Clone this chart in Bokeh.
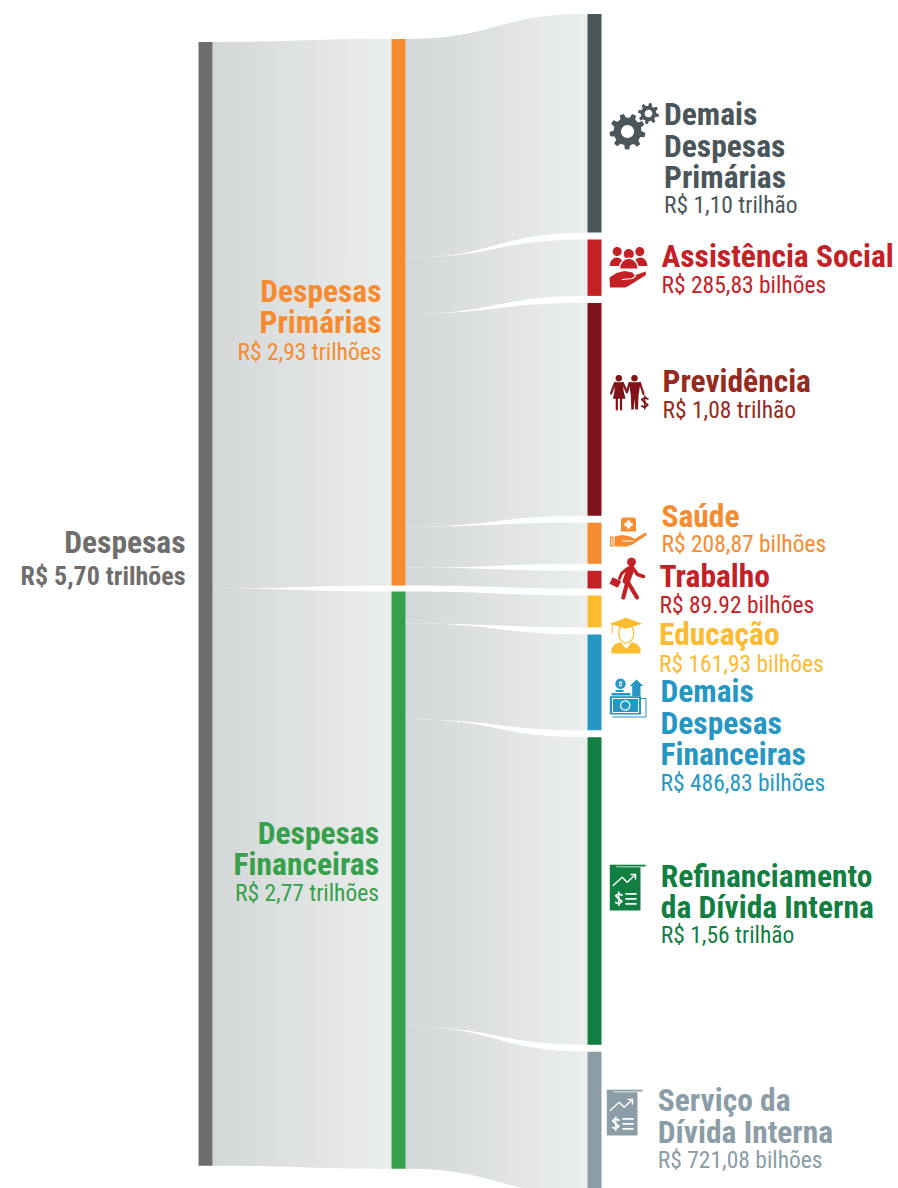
import numpy as np
from bokeh.plotting import figure
from bokeh.models import Range1d
from bokeh.core.properties import value
from bokeh.embed import file_html
from bokeh.resources import INLINE

# ---- data (R$ trillions as drawn, labels as printed) ----
right_names = ["Demais Despesas Primárias", "Assistência Social", "Previdência", "Saúde", "Trabalho",
               "Educação", "Demais Despesas Financeiras", "Refinanciamento da Dívida Interna", "Serviço da Dívida Interna"]
right_values = [1.11, 0.28583, 1.08, 0.20887, 0.08992, 0.16193, 0.48683, 1.56, 0.72108]
right_group = [0, 0, 0, 0, 0, 1, 1, 1, 1]
right_colors = ["#4b565b", "#c42127", "#7f1319", "#f68b2f", "#c42127", "#fdbb30", "#2697c4", "#107f41", "#8b9da6"]
mid_colors = ["#f68b2f", "#36a04a"]
root_color = "#6f6e6c"

FONT = "Roboto Condensed, Roboto"
PX = 197.0
W, H = 898, 1188
ORIG_Y = 41.4

p = figure(width=W, height=H, output_backend="svg", toolbar_location=None,
           x_range=Range1d(0, W),
           y_range=Range1d((H - ORIG_Y) / PX, (0 - ORIG_Y) / PX),
           x_axis_location=None, y_axis_location=None, min_border=0)
p.extra_y_ranges = {"px": Range1d(H, 0)}
p.outline_line_color = None
p.grid.visible = False
p.background_fill_color = "white"
p.border_fill_color = "white"

# ---- layout, in trillions ----
vals = np.array(right_values)
grp = np.array(right_group)
mid_values = np.array([vals[grp == 0].sum(), vals[grp == 1].sum()])
total = vals.sum()
center = total / 2
gap_mid, gap_right = 6 / PX, 7 / PX

mid_top = center - (total + gap_mid) / 2
mid_y0 = np.array([mid_top, mid_top + mid_values[0] + gap_mid])
right_top = center - (total + 8 * gap_right) / 2
right_y0 = right_top + np.concatenate([[0], np.cumsum(vals + gap_right)[:-1]])

X_L, X_M, X_R, NW = 198, 391, 587, 14
GL, GR = np.array([0xd4, 0xd7, 0xd8]), np.array([0xea, 0xee, 0xec])


def link(x0, x1, s0, s1, t0, t1, n=36):
    tt = np.linspace(0, 1, 400)
    fx = 1.5 * tt - 1.5 * tt ** 2 + tt ** 3
    fy = tt ** 2 * (3 - 2 * tt)
    edges = np.linspace(x0, x1, n + 1)
    xs, ys, cs = [], [], []
    for i in range(n):
        a = edges[i]
        b = min(edges[i + 1] + 1.0, x1)
        xx = np.linspace(a, b, 4)
        f = np.interp((xx - x0) / (x1 - x0), fx, fy)
        top = s0 + (t0 - s0) * f
        bot = s1 + (t1 - s1) * f
        xs.append(list(xx) + list(xx[::-1]))
        ys.append(list(top) + list(bot[::-1]))
        c = GL + (GR - GL) * (i + 0.5) / n
        cs.append("#%02x%02x%02x" % tuple(int(round(v)) for v in c))
    p.patches(xs, ys, fill_color=cs, line_color=None)


# left links
acc = 0.0
for i in range(2):
    link(X_L + NW, X_M, acc, acc + mid_values[i], mid_y0[i], mid_y0[i] + mid_values[i])
    acc += mid_values[i]
# right links
pos = mid_y0.copy()
for i, v in enumerate(vals):
    g = grp[i]
    link(X_M + NW, X_R, pos[g], pos[g] + v, right_y0[i], right_y0[i] + v)
    pos[g] += v

# nodes
p.quad(left=[X_L], right=[X_L + NW], top=[0], bottom=[total], fill_color=root_color, line_color=None)
p.quad(left=[X_M] * 2, right=[X_M + NW] * 2, top=mid_y0, bottom=mid_y0 + mid_values, fill_color=mid_colors, line_color=None)
p.quad(left=[X_R] * 9, right=[X_R + NW] * 9, top=right_y0, bottom=right_y0 + vals, fill_color=right_colors, line_color=None)

# ---- text ----
BIG, SMALL = 31.5, 23.5
BASE_SHIFT = 0.33


def tx(x, y, s, color, big=True, align="left", size=None, style=None):
    fs = size or (BIG if big else SMALL)
    p.text([x - 1 if align == "left" else x], [y - BASE_SHIFT * fs], text=[s], y_range_name="px", text_color=color,
           text_align=align, text_baseline="alphabetic", text_font=value(FONT),
           text_font_size=f"{fs}px", text_font_style=style or ("bold" if big else "normal"))


tx(185, 552.5, "Despesas", root_color, align="right")
tx(185, 584, "R$ 5,70 trilhões", root_color, align="right", size=26, style="bold")
tx(381, 301, "Despesas", mid_colors[0], align="right")
tx(381, 332, "Primárias", mid_colors[0], align="right")
tx(381, 359, "R$ 2,93 trilhões", mid_colors[0], big=False, align="right")
tx(378.5, 843.3, "Despesas", mid_colors[1], align="right")
tx(378.5, 874.3, "Financeiras", mid_colors[1], align="right")
tx(378.5, 900.7, "R$ 2,77 trilhões", mid_colors[1], big=False, align="right")

BROWN = "#952a20"
labels = [
    (664.5, [(124.2, "Demais"), (156.2, "Despesas"), (187.2, "Primárias")], 212.2, "R$ 1,10 trilhão", right_colors[0]),
    (662, [(266.2, "Assistência Social")], 292.2, "R$ 285,83 bilhões", right_colors[1]),
    (663, [(391.2, "Previdência")], 417.2, "R$ 1,08 trilhão", BROWN),
    (662, [(526.2, "Saúde")], 551.2, "R$ 208,87 bilhões", right_colors[3]),
    (660, [(586.2, "Trabalho")], 612.2, "R$ 89.92 bilhões", right_colors[4]),
    (659.5, [(644.2, "Educação")], 671.2, "R$ 161,93 bilhões", right_colors[5]),
    (661, [(701.2, "Demais"), (733.2, "Despesas"), (764.2, "Financeiras")], 790.2, "R$ 486,83 bilhões", right_colors[6]),
    (661.3, [(886.2, "Refinanciamento"), (917.2, "da Dívida Interna")], 942.2, "R$ 1,56 trilhão", right_colors[7]),
    (658.3, [(1110, "Serviço da"), (1142, "Dívida Interna")], 1167.2, "R$ 721,08 bilhões", right_colors[8]),
]
for x, lines, ys, sub, col in labels:
    for y, s in lines:
        tx(x, y, s, col)
    tx(x, ys, sub, col, big=False)


# ---- icons, in page pixels ----
def P(pts, color):
    a = np.array(pts, dtype=float)
    p.patch(a[:, 0], a[:, 1], fill_color=color, line_color=None, y_range_name="px")


def L(pts, color, w=1.0):
    a = np.array(pts, dtype=float)
    p.line(a[:, 0], a[:, 1], line_color=color, line_width=w, line_cap="round", line_join="round", y_range_name="px")


def E(cx, cy, rx, ry=None, color="#000", a0=0.0, a1=2 * np.pi):
    ry = rx if ry is None else ry
    t = np.linspace(a0, a1, 40)
    P(np.c_[cx + rx * np.cos(t), cy + ry * np.sin(t)], color)


def R(x0, y0, x1, y1, color):
    P([(x0, y0), (x1, y0), (x1, y1), (x0, y1)], color)


def gear(cx, cy, ro, ri, hole, n, color, rot=0.2):
    pts = []
    for k in range(n):
        a = rot + 2 * np.pi * k / n
        w = 2 * np.pi / n
        for da, r in [(-0.30, ri), (-0.17, ro), (0.17, ro), (0.30, ri)]:
            pts.append((cx + r * np.cos(a + da * w), cy + r * np.sin(a + da * w)))
    P(pts, color)
    E(cx, cy, hole, color="white")


def dollar(cx, cy, s, color, w=1.2):
    L([(cx + s * .5, cy - s * .6), (cx, cy - s * .8), (cx - s * .5, cy - s * .5), (cx - s * .1, cy - s * .05),
       (cx + s * .5, cy + s * .4), (cx, cy + s * .8), (cx - s * .5, cy + s * .6)], color, w)
    L([(cx, cy - s * 1.1), (cx, cy + s * 1.1)], color, w * .8)


# gears
gear(627, 131, 18, 14, 6.5, 9, right_colors[0])
gear(648, 113, 10.5, 7.8, 3.8, 8, right_colors[0])

# people and hand
c = right_colors[1]
E(616.7, 251, 4.5, color=c); E(639.3, 251, 4.5, color=c)
E(616.2, 265.5, 7, 8.5, c, np.pi, 2 * np.pi); E(639.8, 265.5, 7, 8.5, c, np.pi, 2 * np.pi)
E(628.3, 253.5, 6.2, color="white"); E(628.3, 253.5, 5, color=c)
E(628.3, 268, 10, 11, "white", np.pi, 2 * np.pi)
E(628.3, 268, 8.5, 9.5, c, np.pi, 2 * np.pi)
P([(609, 277), (616, 272.5), (624, 270.5), (632, 272), (634, 275), (645, 271), (645.5, 274.5), (632, 283), (625, 287),
   (609.5, 287)], c)
L([(622, 279), (632, 278), (635, 275.5)], "white", 1.2)

# couple
c = right_colors[2]
E(618.3, 377.7, 3.3, color=c); E(634, 377.7, 3.3, color=c)
P([(614, 381.7), (622.7, 381.7), (623, 390), (625, 398.3), (612.5, 398.3), (614, 390)], c)
L([(614.5, 382.5), (610.5, 393)], c, 2.2); L([(622.3, 382.5), (626.5, 391.7)], c, 2.2)
L([(616.3, 398), (616.3, 409)], c, 2.2); L([(620.5, 398), (620.5, 409)], c, 2.2)
P([(628.5, 381.7), (640, 381.7), (638, 395), (637.5, 409), (634.8, 409), (634, 398), (633.3, 409), (630.8, 409), (630.3, 395)], c)
L([(629, 382.5), (626.5, 391.7)], c, 2.2); L([(639.5, 382.5), (643, 393.5)], c, 2.2)
dollar(644.3, 402, 6, c, 1.8)

# health hand
c = right_colors[3]
P([(620.5, 519), (622, 517), (634, 517), (635.5, 519), (635.5, 531), (620.5, 531)], c)
R(626.3, 520, 629.7, 528, "white"); R(624, 522.3, 632, 525.7, "white")
R(609.5, 536, 613, 546, c)
R(610.7, 537.5, 611.8, 544.5, "white")
P([(614, 536), (622, 534.5), (630, 536), (634, 538.5), (645, 532), (646.5, 534.5), (632, 544), (627, 546), (614, 546)], c)
L([(622, 540.5), (632, 540.5)], "white", 1)

# worker
c = right_colors[4]
E(631, 561.5, 4.4, color=c)
L([(630, 569), (626, 580)], c, 7.5)
L([(632, 567), (637, 574), (643, 576)], c, 3.6)
L([(627, 568), (621, 573), (619, 578)], c, 3)
P([(612, 576.7), (620.7, 580.7), (617.3, 587.3), (609, 583.3)], c)
L([(627, 581), (622.8, 597)], c, 4.2)
L([(627, 581), (636.5, 597)], c, 4.2)

# graduate
c = right_colors[5]
E(625.7, 632.7, 8, 10.5, c); E(625.7, 632.7, 6.8, 9.3, color="white")
P([(609.3, 623.3), (625.7, 617.3), (641.7, 623.3), (625.7, 628.3)], c)
L([(611.7, 624), (611.7, 633)], c, 1)
P([(611, 653), (611, 648), (614, 644), (620, 641.5), (625.7, 648), (631.5, 641.5), (637, 644), (640, 648), (640, 653)], c)
L([(620.5, 641), (625.7, 648), (631, 641)], "white", 1)

# money
c = right_colors[6]
E(620, 683.3, 5.2, color=c)
L([(621.5, 681.5), (619, 681.5), (619, 683.3), (621, 683.3), (621, 685.2), (618.5, 685.2)], "white", 1)
R(615, 689.5, 623, 691.5, c); R(611, 692.5, 630, 695, c)
P([(636, 679), (642.7, 685.5), (640, 685.5), (640, 695.7), (631.7, 695.7), (631.7, 685.5), (629.3, 685.5)], c)
L([(640, 698), (645.5, 698), (645.5, 716.5), (612, 716.5)], c, 1)
R(609.3, 695.7, 640.5, 714, c)
L([(612, 698), (638, 698), (638, 712), (612, 712), (612, 698)], "white", 1)
E(624.7, 705, 5.2, color="white"); E(624.7, 705, 4, color=c)


# report icons
def report(dx, dy, c):
    P([(609.3 + dx, 866.8 + dy), (640 + dx, 866.8 + dy), (640 + dx, 910 + dy), (609.3 + dx, 910 + dy)], c)
    R(616 + dx, 864.2 + dy, 645 + dx, 866 + dy, c)
    R(609.3 + dx, 864.2 + dy, 616 + dx, 868 + dy, c)
    L([(612.7 + dx, 885 + dy), (621.7 + dx, 876.7 + dy), (626.7 + dx, 881.7 + dy), (635 + dx, 874 + dy)], "white", 1.5)
    L([(630.5 + dx, 874 + dy), (635 + dx, 874 + dy), (635 + dx, 878.5 + dy)], "white", 1.5)
    dollar(618.3 + dx, 898.3 + dy, 6.2, "white", 1.8)
    for yy in (893.3, 898.3, 903.3):
        L([(625.5 + dx, yy + dy), (635.5 + dx, yy + dy)], "white", 1.7)


report(0, 0, right_colors[7])
report(-3, 225, right_colors[8])

open("out.html", "w").write(file_html(p, INLINE))
